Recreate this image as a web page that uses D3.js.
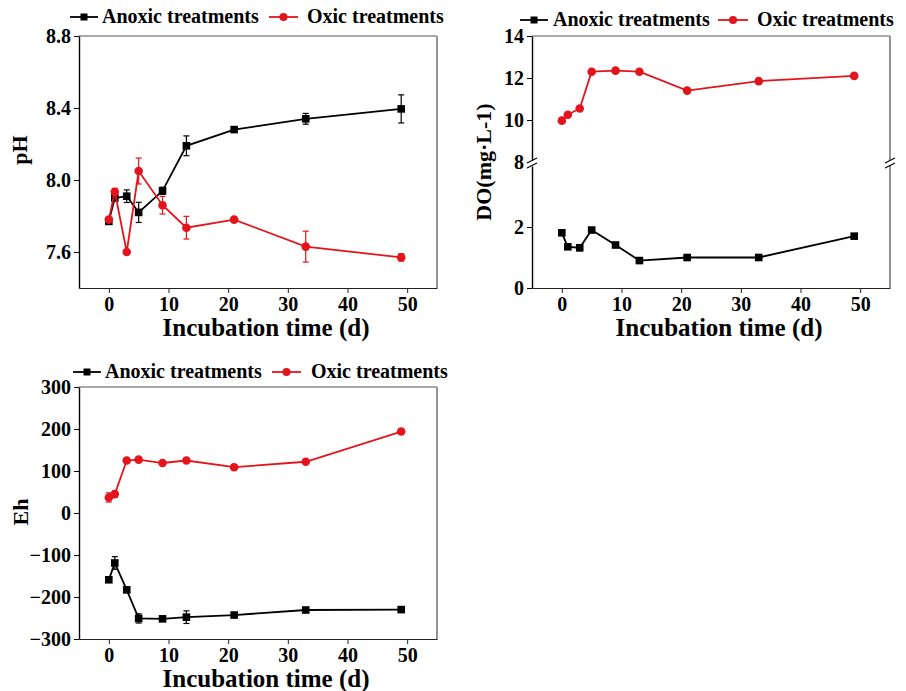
<!DOCTYPE html>
<html lang="en">
<head>
  <meta charset="utf-8">
  <title>pH, DO and Eh over incubation time</title>
  <script src="https://cdn.jsdelivr.net/npm/d3@7"></script>
  <style>
    body { margin: 0; background: #fff; }
    svg text { font-family: "Liberation Serif", "Times New Roman", serif; font-weight: bold; }
  </style>
</head>
<body>
<script>
  // incubation days
  var days = [0, 1, 3, 5, 9, 13, 21, 33, 49];
  var xTicks = [0, 10, 20, 30, 40, 50];

  // pH
  var phAnoxic = [7.77, 7.90, 7.91, 7.82, 7.94, 8.19, 8.28, 8.34, 8.395];
  var phAnoxicErr = [0.01, 0.01, 0.035, 0.056, 0.02, 0.055, 0.01, 0.03, 0.078];
  var phOxic = [7.78, 7.935, 7.60, 8.05, 7.86, 7.735, 7.78, 7.63, 7.57];
  var phOxicErr = [0.01, 0.018, 0.01, 0.072, 0.049, 0.063, 0.01, 0.086, 0.02];
  var phTicks = [7.6, 8.0, 8.4, 8.8];

  // dissolved oxygen (broken axis)
  var doAnoxic = [1.81, 1.35, 1.32, 1.90, 1.41, 0.90, 1.00, 1.00, 1.70];
  var doAnoxicErr = [0.03, 0.04, 0.1, 0.03, 0.03, 0.03, 0.03, 0.03, 0.03];
  var doOxic = [9.97, 10.25, 10.55, 12.3, 12.35, 12.3, 11.4, 11.85, 12.1];
  var doOxicErr = [0.05, 0.05, 0.05, 0.05, 0.05, 0.05, 0.05, 0.05, 0.05];
  var doTicksLow = [0, 2];
  var doTicksHigh = [8, 10, 12, 14];

  // Eh
  var ehAnoxic = [-159, -119, -183, -251, -252, -248, -243, -231, -230];
  var ehAnoxicErr = [4, 15, 4, 11, 4, 15, 4, 4, 4];
  var ehOxic = [37, 45, 125, 127, 119, 125, 109, 122, 194];
  var ehOxicErr = [11, 7, 3, 3, 3, 3, 3, 3, 3];
  var ehTicks = [-300, -200, -100, 0, 100, 200, 300];

  var red = "#e3141b";
  var pw = 358, ph = 252;

  var svg = d3.select("body").append("svg")
    .attr("width", 906)
    .attr("height", 691);

  function zip(vals, errs) {
    return days.map(function(d, i) { return {t: d, v: vals[i], e: errs[i]}; });
  }

  function drawPanel(p) {
    var g = svg.append("g")
      .attr("transform", "translate(" + p.left + "," + p.top + ")");

    var x = d3.scaleLinear().domain([-5, 55]).range([0, pw]);

    // frame: top and right in grey
    g.append("line").attr("x1", 0).attr("x2", pw).attr("y1", 0).attr("y2", 0)
      .attr("stroke", "#555").attr("stroke-width", 1.2);
    g.append("line").attr("x1", pw).attr("x2", pw).attr("y1", 0).attr("y2", ph)
      .attr("stroke", "#888").attr("stroke-width", 1.8);

    // x axis
    var xa = g.append("g")
      .attr("transform", "translate(0," + ph + ")")
      .call(d3.axisBottom(x).tickValues(xTicks).tickSize(5).tickSizeOuter(0).tickPadding(4));
    xa.select(".domain").attr("stroke", "#222").attr("stroke-width", 1.2);
    xa.selectAll(".tick line").attr("stroke", "#222");
    xa.selectAll("text").attr("font-size", 20).attr("fill", "#000")
      .attr("font-family", "Liberation Serif");

    // y axis (one or two scales)
    p.yParts.forEach(function(part) {
      var ya = g.append("g")
        .call(d3.axisLeft(part.y).tickValues(part.ticks).tickSize(5).tickSizeOuter(0)
          .tickPadding(3).tickFormat(part.fmt));
      ya.select(".domain").attr("stroke", "#000").attr("stroke-width", 1.4);
      ya.selectAll(".tick line").attr("stroke", "#000");
      ya.selectAll("text").attr("font-size", 20).attr("fill", "#000")
        .attr("font-family", "Liberation Serif");
    });
    if (p.breakY != null) {
      [0, pw].forEach(function(bx) {
        g.append("rect").attr("x", bx - 4).attr("y", p.breakY - 2.5)
          .attr("width", 8).attr("height", 5).attr("fill", "#fff");
        [-2.5, 2.5].forEach(function(off) {
          g.append("line")
            .attr("x1", bx - 5).attr("x2", bx + 5)
            .attr("y1", p.breakY + off + 2.5).attr("y2", p.breakY + off - 2.5)
            .attr("stroke", "#000").attr("stroke-width", 1.2);
        });
      });
    }

    // series
    p.series.forEach(function(s) {
      var data = zip(s.vals, s.errs);
      var y = s.y;
      var line = d3.line()
        .x(function(d) { return x(d.t); })
        .y(function(d) { return y(d.v); });
      g.append("path").attr("d", line(data))
        .attr("fill", "none").attr("stroke", s.color).attr("stroke-width", 1.8);

      var eb = g.append("g").attr("stroke", s.color).attr("stroke-width", 1.2);
      data.forEach(function(d) {
        var y1 = y(d.v - d.e), y2 = y(d.v + d.e), cx = x(d.t);
        eb.append("line").attr("x1", cx).attr("x2", cx).attr("y1", y1).attr("y2", y2);
        eb.append("line").attr("x1", cx - 3).attr("x2", cx + 3).attr("y1", y1).attr("y2", y1);
        eb.append("line").attr("x1", cx - 3).attr("x2", cx + 3).attr("y1", y2).attr("y2", y2);
      });

      if (s.shape === "square") {
        g.selectAll(null).data(data).enter().append("rect")
          .attr("x", function(d) { return x(d.t) - 3.8; })
          .attr("y", function(d) { return y(d.v) - 3.8; })
          .attr("width", 7.6).attr("height", 7.6)
          .attr("fill", s.color);
      } else {
        g.selectAll(null).data(data).enter().append("circle")
          .attr("cx", function(d) { return x(d.t); })
          .attr("cy", function(d) { return y(d.v); })
          .attr("r", 4.3)
          .attr("fill", s.color);
      }
    });

    // legend
    var L = p.legend;
    g.append("line").attr("x1", L.a1).attr("x2", L.a2).attr("y1", L.y).attr("y2", L.y)
      .attr("stroke", "#000").attr("stroke-width", 1.8);
    g.append("rect").attr("x", (L.a1 + L.a2) / 2 - 3.5).attr("y", L.y - 3.5)
      .attr("width", 7).attr("height", 7).attr("fill", "#000");
    g.append("text").attr("x", L.at).attr("y", L.y + 6).attr("font-size", 20)
      .text("Anoxic treatments");
    g.append("line").attr("x1", L.o1).attr("x2", L.o2).attr("y1", L.y).attr("y2", L.y)
      .attr("stroke", red).attr("stroke-width", 1.8);
    g.append("circle").attr("cx", (L.o1 + L.o2) / 2).attr("cy", L.y).attr("r", 4)
      .attr("fill", red);
    g.append("text").attr("x", L.ot).attr("y", L.y + 6).attr("font-size", 20)
      .text("Oxic treatments");

    // axis titles
    g.append("text")
      .attr("transform", "translate(" + p.yTitleX + "," + p.yTitleY + ") rotate(-90)")
      .attr("text-anchor", "middle").attr("font-size", 22)
      .text(p.yTitle);
    g.append("text")
      .attr("x", pw / 2 + 8).attr("y", ph + 48)
      .attr("text-anchor", "middle").attr("font-size", 25)
      .text("Incubation time (d)");
  }

  // pH panel
  var yPH = d3.scaleLinear().domain([7.4, 8.8]).range([ph, 0]);
  drawPanel({
    left: 79, top: 36,
    yParts: [{y: yPH, ticks: phTicks, fmt: d3.format(".1f")}],
    series: [
      {vals: phAnoxic, errs: phAnoxicErr, y: yPH, color: "#000", shape: "square"},
      {vals: phOxic, errs: phOxicErr, y: yPH, color: red, shape: "circle"}
    ],
    legend: {y: -19, a1: -9, a2: 19, at: 23, o1: 190, o2: 219, ot: 228},
    yTitle: "pH", yTitleX: -52, yTitleY: 114
  });

  // DO panel with broken axis
  var yDOlow = d3.scaleLinear().domain([0, 4]).range([ph, 130]);
  var yDOhigh = d3.scaleLinear().domain([8, 14]).range([126, 0]);
  drawPanel({
    left: 532, top: 36,
    yParts: [
      {y: yDOlow, ticks: doTicksLow, fmt: d3.format("d")},
      {y: yDOhigh, ticks: doTicksHigh, fmt: d3.format("d")}
    ],
    breakY: 127,
    series: [
      {vals: doAnoxic, errs: doAnoxicErr, y: yDOlow, color: "#000", shape: "square"},
      {vals: doOxic, errs: doOxicErr, y: yDOhigh, color: red, shape: "circle"}
    ],
    legend: {y: -16, a1: -12, a2: 16, at: 21, o1: 186, o2: 216, ot: 225},
    yTitle: "DO(mg\u00b7L-1)", yTitleX: -41, yTitleY: 126
  });

  // Eh panel
  var yEH = d3.scaleLinear().domain([-300, 300]).range([ph, 0]);
  drawPanel({
    left: 79, top: 387,
    yParts: [{y: yEH, ticks: ehTicks, fmt: d3.format("d")}],
    series: [
      {vals: ehAnoxic, errs: ehAnoxicErr, y: yEH, color: "#000", shape: "square"},
      {vals: ehOxic, errs: ehOxicErr, y: yEH, color: red, shape: "circle"}
    ],
    legend: {y: -15, a1: -6, a2: 22, at: 26, o1: 193, o2: 222, ot: 232},
    yTitle: "Eh", yTitleX: -51, yTitleY: 125
  });
</script>
</body>
</html>
